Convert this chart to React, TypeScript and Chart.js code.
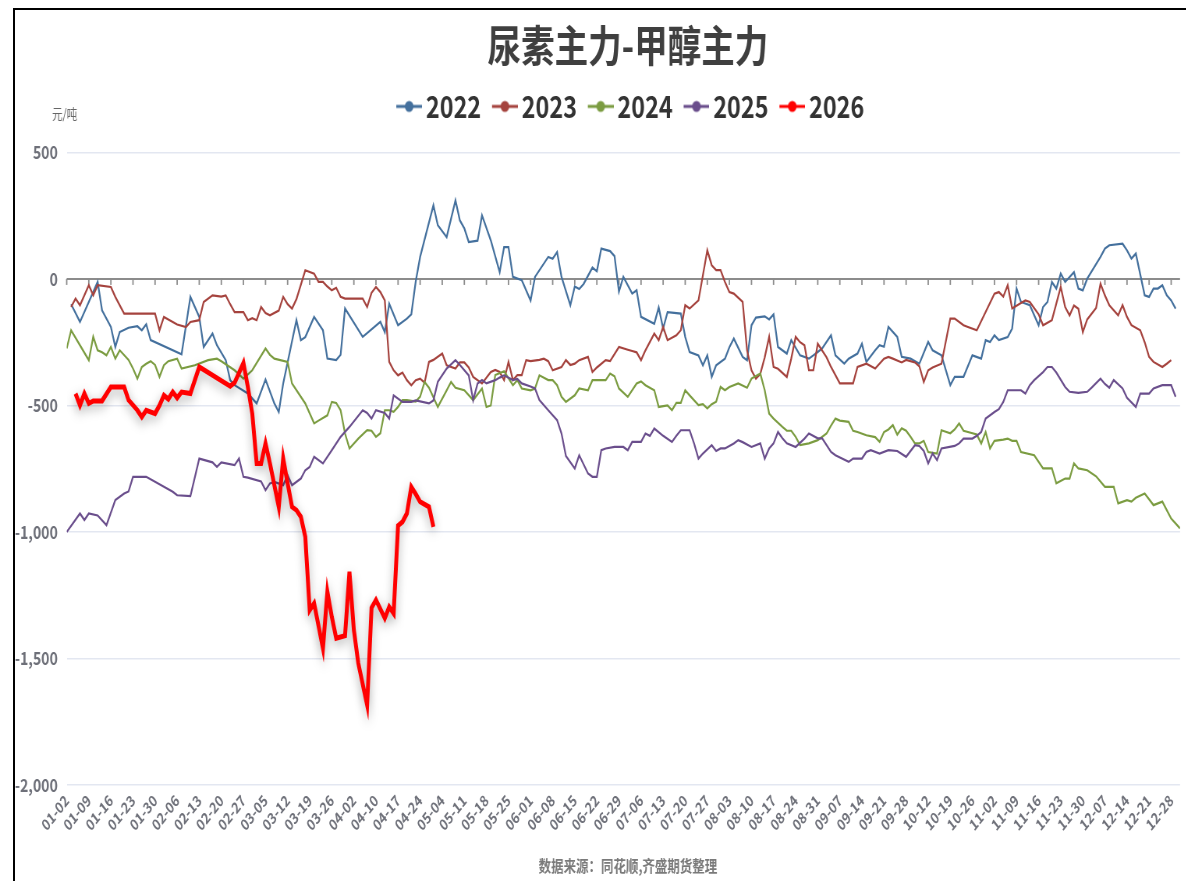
import React, { useEffect, useRef } from 'react';
import { Chart, registerables, layouts } from 'chart.js';

Chart.register(...registerables);

// ---------- data ----------
const tickLabels: string[] = [
  '01-02', '01-09', '01-16', '01-23', '01-30', '02-06', '02-13', '02-20', '02-27', '03-05',
  '03-12', '03-19', '03-26', '04-02', '04-10', '04-17', '04-24', '05-04', '05-11', '05-18',
  '05-25', '06-01', '06-08', '06-15', '06-22', '06-29', '07-06', '07-13', '07-20', '07-27',
  '08-03', '08-10', '08-17', '08-24', '08-31', '09-07', '09-14', '09-21', '09-28', '10-12',
  '10-19', '10-26', '11-02', '11-09', '11-16', '11-23', '11-30', '12-07', '12-14', '12-21',
  '12-28',
];
const lastDay = 252;
const seriesNames = ['2022', '2023', '2024', '2025', '2026'];
const seriesColors = ['#44709d', '#a5433e', '#7b9c41', '#6a4e8c', '#ff0000'];

// [trading-day index, value 元/吨]
const s2022: [number, number][] = [
  [1, -100], [3, -170], [7, -12], [8, -124], [10, -190], [11, -269], [12, -210], [14, -193], [16, -187], [17, -203],
  [18, -179], [19, -242], [26, -298], [28, -71], [30, -150], [31, -269], [33, -216], [34, -262], [36, -321], [37, -400],
  [38, -420], [41, -453], [43, -492], [45, -398], [47, -492], [48, -526], [49, -413], [52, -163], [53, -242], [54, -230],
  [56, -150], [58, -203], [59, -315], [61, -321], [62, -300], [63, -117], [67, -229], [71, -170], [72, -210], [73, -98],
  [75, -183], [77, -157], [78, -140], [79, -10], [80, 87], [83, 291], [84, 212], [86, 165], [88, 310], [89, 231],
  [90, 200], [91, 146], [93, 151], [94, 251], [96, 152], [98, 27], [99, 126], [100, 126], [101, 8], [103, -5],
  [105, -85], [106, 8], [109, 87], [110, 80], [111, 106], [112, 8], [114, -104], [115, -30], [116, -40], [117, -20],
  [119, 45], [120, 30], [121, 120], [123, 110], [124, 90], [125, -50], [126, 8], [128, -58], [129, -45], [130, -150],
  [133, -177], [134, -113], [135, -196], [136, -131], [139, -137], [140, -229], [141, -289], [143, -302], [144, -341], [145, -302],
  [146, -387], [147, -341], [149, -315], [150, -270], [151, -236], [153, -308], [154, -321], [155, -183], [156, -153], [158, -148],
  [159, -160], [160, -140], [161, -269], [163, -295], [164, -242], [166, -302], [168, -315], [169, -302], [170, -289], [171, -275],
  [173, -223], [174, -302], [176, -335], [177, -315], [179, -295], [180, -256], [181, -328], [183, -282], [184, -262], [185, -268],
  [186, -190], [188, -229], [189, -308], [191, -315], [193, -335], [195, -249], [196, -282], [198, -302], [200, -420], [201, -387],
  [203, -387], [205, -302], [207, -315], [208, -242], [209, -249], [210, -223], [211, -242], [213, -230], [214, -196], [215, -38],
  [216, -91], [218, -104], [220, -183], [221, -111], [222, -91], [223, -12], [224, -38], [225, 21], [226, -12], [228, 27],
  [229, -38], [230, -45], [231, 1], [234, 87], [235, 120], [236, 133], [239, 139], [240, 113], [241, 80], [242, 100],
  [244, -65], [245, -71], [246, -38], [247, -38], [248, -25], [249, -65], [250, -85], [251, -117],
];

const s2023: [number, number][] = [
  [1, -111], [2, -78], [3, -104], [5, -25], [6, -65], [7, -25], [10, -32], [11, -71], [13, -137], [20, -137],
  [21, -203], [22, -150], [23, -160], [24, -170], [25, -180], [27, -190], [28, -170], [30, -163], [31, -91], [33, -65],
  [35, -70], [36, -65], [37, -100], [38, -131], [40, -131], [41, -163], [42, -155], [43, -163], [44, -111], [45, -135],
  [46, -144], [48, -125], [49, -71], [50, -100], [51, -117], [52, -80], [54, 34], [56, 21], [57, -12], [58, -12],
  [59, -30], [60, -45], [61, -35], [62, -71], [63, -78], [67, -78], [68, -111], [69, -55], [70, -32], [71, -52],
  [72, -85], [73, -328], [74, -361], [75, -381], [76, -370], [77, -400], [78, -420], [79, -400], [80, -394], [81, -410],
  [82, -328], [83, -320], [85, -295], [86, -341], [88, -354], [89, -330], [90, -330], [91, -350], [92, -387], [94, -413],
  [96, -368], [97, -360], [98, -368], [99, -400], [100, -328], [101, -400], [102, -380], [103, -380], [104, -321], [105, -325],
  [107, -320], [108, -315], [109, -325], [110, -361], [112, -348], [113, -321], [114, -340], [115, -335], [116, -321], [118, -308],
  [119, -368], [120, -350], [122, -321], [123, -325], [125, -269], [127, -280], [128, -285], [129, -290], [130, -321], [131, -282],
  [133, -216], [134, -242], [135, -190], [136, -242], [138, -223], [139, -203], [140, -104], [141, -117], [143, -85], [145, 113],
  [146, 54], [147, 35], [148, 35], [149, -12], [150, -52], [151, -58], [153, -91], [154, -282], [155, -361], [156, -394],
  [157, -375], [158, -310], [159, -229], [160, -348], [161, -355], [163, -387], [164, -315], [165, -229], [166, -250], [167, -262],
  [168, -361], [169, -361], [170, -256], [172, -310], [173, -348], [175, -413], [178, -413], [179, -348], [181, -335], [183, -354],
  [185, -315], [186, -308], [187, -315], [189, -330], [190, -320], [192, -330], [193, -345], [194, -407], [195, -361], [196, -350],
  [198, -335], [200, -157], [201, -157], [203, -183], [204, -190], [206, -203], [210, -58], [211, -52], [212, -70], [213, -25],
  [214, -117], [216, -95], [217, -85], [218, -91], [220, -140], [221, -183], [223, -163], [224, -98], [225, -32], [226, -111],
  [227, -144], [228, -105], [229, -118], [230, -210], [231, -160], [233, -115], [234, -19], [235, -65], [236, -104], [238, -144],
  [239, -104], [240, -150], [241, -183], [243, -203], [244, -250], [245, -308], [246, -328], [248, -348], [249, -335], [250, -321],
];

const s2024: [number, number][] = [
  [0, -275], [1, -203], [3, -262], [5, -321], [6, -229], [7, -282], [8, -290], [9, -302], [10, -269], [11, -315],
  [12, -282], [14, -320], [15, -354], [16, -394], [17, -348], [18, -335], [19, -325], [20, -340], [21, -387], [22, -341],
  [23, -325], [25, -315], [26, -354], [29, -341], [32, -321], [34, -315], [35, -325], [38, -361], [40, -394], [42, -361],
  [45, -275], [46, -300], [47, -315], [50, -328], [51, -413], [54, -492], [56, -571], [57, -560], [59, -539], [60, -486],
  [61, -490], [62, -519], [63, -611], [64, -670], [66, -631], [68, -598], [69, -600], [70, -624], [71, -610], [72, -519],
  [73, -519], [74, -525], [75, -506], [76, -479], [77, -479], [79, -485], [80, -465], [81, -407], [82, -430], [84, -506],
  [86, -440], [87, -407], [88, -430], [90, -440], [92, -479], [94, -433], [95, -506], [96, -500], [97, -380], [99, -365],
  [101, -420], [102, -400], [103, -433], [105, -440], [106, -433], [107, -381], [109, -400], [110, -400], [111, -420], [112, -466],
  [113, -486], [115, -460], [116, -433], [118, -440], [119, -400], [122, -400], [123, -374], [124, -385], [125, -433], [127, -466],
  [129, -413], [130, -405], [131, -420], [133, -440], [134, -506], [136, -500], [137, -519], [138, -490], [139, -490], [140, -440],
  [141, -460], [143, -499], [144, -495], [145, -512], [146, -495], [147, -485], [148, -427], [149, -440], [150, -427], [152, -413],
  [154, -430], [155, -394], [157, -374], [158, -440], [159, -532], [160, -552], [162, -585], [163, -600], [164, -600], [165, -624],
  [166, -657], [168, -650], [170, -637], [172, -611], [173, -580], [174, -552], [175, -560], [177, -565], [178, -600], [179, -605],
  [181, -618], [183, -625], [184, -644], [185, -605], [186, -595], [187, -578], [188, -615], [189, -590], [190, -600], [191, -624],
  [192, -650], [193, -650], [194, -640], [195, -684], [197, -690], [198, -598], [200, -610], [201, -595], [202, -571], [203, -600],
  [204, -605], [206, -615], [207, -650], [208, -605], [209, -670], [210, -640], [212, -635], [213, -631], [214, -640], [215, -640],
  [216, -684], [219, -697], [221, -749], [223, -749], [224, -808], [226, -789], [227, -789], [228, -729], [229, -749], [231, -756],
  [233, -780], [235, -822], [237, -822], [238, -887], [240, -874], [241, -880], [242, -865], [244, -848], [246, -894], [248, -880],
  [249, -914], [250, -947], [252, -986],
];

const s2025: [number, number][] = [
  [0, -1000], [3, -927], [4, -953], [5, -927], [7, -935], [9, -973], [11, -874], [13, -848], [14, -840], [15, -782],
  [18, -782], [24, -841], [25, -855], [28, -858], [30, -710], [33, -725], [34, -743], [35, -725], [38, -736], [39, -710],
  [40, -782], [41, -785], [44, -800], [45, -835], [46, -808], [47, -802], [49, -815], [50, -776], [51, -815], [53, -789],
  [54, -756], [55, -743], [56, -703], [58, -729], [60, -677], [62, -624], [64, -585], [67, -519], [68, -530], [69, -552],
  [70, -519], [72, -530], [73, -552], [74, -460], [76, -486], [78, -486], [79, -480], [82, -492], [83, -480], [84, -407],
  [86, -354], [88, -321], [89, -340], [91, -381], [92, -479], [93, -413], [94, -400], [95, -413], [97, -400], [98, -390],
  [99, -381], [101, -400], [102, -395], [103, -413], [105, -425], [106, -433], [107, -479], [109, -519], [111, -558], [112, -611],
  [113, -700], [115, -749], [116, -697], [118, -769], [119, -782], [120, -782], [121, -677], [122, -670], [124, -664], [126, -664],
  [127, -677], [128, -644], [130, -644], [131, -611], [132, -620], [133, -591], [135, -620], [137, -644], [138, -620], [139, -598],
  [141, -598], [142, -650], [143, -710], [144, -690], [146, -657], [147, -680], [148, -670], [149, -670], [151, -650], [152, -637],
  [153, -645], [155, -664], [157, -650], [158, -710], [159, -670], [160, -650], [161, -605], [162, -630], [163, -650], [165, -664],
  [167, -631], [168, -611], [170, -630], [171, -630], [173, -684], [174, -697], [177, -723], [178, -710], [180, -710], [181, -684],
  [182, -677], [184, -690], [186, -677], [188, -680], [190, -703], [192, -657], [193, -660], [194, -680], [195, -729], [196, -690],
  [197, -716], [198, -670], [201, -660], [202, -650], [203, -631], [205, -631], [206, -620], [207, -605], [208, -552], [210, -526],
  [211, -515], [212, -486], [213, -440], [216, -440], [217, -453], [218, -420], [219, -400], [221, -368], [222, -348], [223, -348],
  [224, -370], [226, -427], [227, -446], [229, -450], [231, -446], [232, -430], [234, -394], [235, -415], [236, -430], [237, -400],
  [239, -433], [240, -470], [242, -506], [243, -453], [245, -453], [246, -433], [248, -420], [250, -420], [251, -466],
];

const s2026: [number, number][] = [
  [2, -453], [3, -499], [4, -453], [5, -492], [6, -482], [8, -482], [10, -427], [13, -427], [14, -479], [16, -519],
  [17, -545], [18, -519], [20, -532], [21, -500], [22, -460], [23, -475], [24, -447], [25, -470], [26, -447], [28, -453],
  [30, -348], [37, -424], [38, -410], [40, -332], [41, -427], [42, -532], [43, -729], [44, -729], [45, -650], [46, -729],
  [48, -901], [49, -710], [50, -808], [51, -901], [52, -914], [53, -940], [54, -1019], [55, -1309], [56, -1282], [58, -1460],
  [59, -1236], [60, -1335], [61, -1420], [63, -1410], [64, -1157], [65, -1388], [66, -1519], [68, -1684], [69, -1300], [70, -1269],
  [72, -1341], [73, -1296], [74, -1322], [75, -975], [76, -960], [77, -927], [78, -822], [79, -850], [80, -881], [82, -901],
  [83, -980],
];

const allSeries = [s2022, s2023, s2024, s2025, s2026];

// ---------- layout constants ----------
const SX = 0.78; // horizontal compression of the reference rendering
const CW = 1610;
const CH = 881;
const FONT = '"Noto Sans CJK SC", "Noto Sans", sans-serif';

function makeIcon(color: string): HTMLCanvasElement {
  const c = document.createElement('canvas');
  c.width = 49;
  c.height = 14;
  const g = c.getContext('2d')!;
  g.strokeStyle = color;
  g.lineWidth = 3;
  g.beginPath();
  g.moveTo(16, 7);
  g.lineTo(49, 7);
  g.stroke();
  g.fillStyle = color;
  g.beginPath();
  g.arc(32.5, 7, 5.5, 0, Math.PI * 2);
  g.fill();
  return c;
}

// empty layout box between legend and plot area
const spacerPlugin = {
  id: 'spacer',
  beforeInit(chart: any) {
    const box: any = {
      position: 'top',
      weight: 100,
      fullSize: true,
      options: { display: true, stackWeight: 1 },
      left: 0, top: 0, right: 0, bottom: 0, width: 0, height: 0,
      update(maxWidth: number) {
        this.width = maxWidth;
        this.height = 21;
      },
      isHorizontal() {
        return true;
      },
      draw() {},
    };
    layouts.addBox(chart, box);
  },
};

const decorPlugin = {
  id: 'decor',
  beforeDatasetsDraw(chart: any) {
    const { ctx, chartArea, scales } = chart;
    const y0 = scales.y.getPixelForValue(0);
    ctx.save();
    ctx.strokeStyle = '#8c8c8c';
    ctx.lineWidth = 2;
    ctx.beginPath();
    ctx.moveTo(chartArea.left, y0);
    ctx.lineTo(chartArea.right, y0);
    ctx.stroke();
    ctx.lineWidth = 1.8;
    for (let k = 0; k < tickLabels.length; k++) {
      const x = scales.x.getPixelForValue(k * 5);
      ctx.beginPath();
      ctx.moveTo(x, y0);
      ctx.lineTo(x, y0 + 6);
      ctx.stroke();
    }
    ctx.restore();
  },
  beforeDatasetDraw(chart: any, args: any) {
    if (args.index === 4) {
      const ctx = chart.ctx;
      ctx.save();
      ctx.shadowColor = 'rgba(0,0,0,0.35)';
      ctx.shadowBlur = 12;
      ctx.shadowOffsetX = 0;
      ctx.shadowOffsetY = 4;
    }
  },
  afterDatasetDraw(chart: any, args: any) {
    if (args.index === 4) chart.ctx.restore();
  },
  afterDraw(chart: any) {
    const ctx = chart.ctx;
    ctx.save();
    ctx.font = `13.5px ${FONT}`;
    ctx.fillStyle = '#666666';
    ctx.textAlign = 'left';
    ctx.textBaseline = 'middle';
    ctx.fillText('元/吨', 52 / SX, 114);
    ctx.restore();
  },
};

export default function App() {
  const ref = useRef<HTMLCanvasElement | null>(null);

  useEffect(() => {
    if (!ref.current) return;
    const datasets = allSeries.map((s, i) => ({
      label: seriesNames[i],
      data: s.map(([x, y]) => ({ x, y })),
      borderColor: seriesColors[i],
      backgroundColor: seriesColors[i],
      borderWidth: i === 4 ? 5 : 2.2,
      pointRadius: 0,
      pointHoverRadius: 0,
      pointStyle: makeIcon(seriesColors[i]),
      tension: 0,
      fill: false,
      order: 4 - i,
    }));

    const chart = new Chart(ref.current, {
      type: 'line',
      data: { datasets },
      options: {
        animation: false,
        responsive: false,
        devicePixelRatio: 1,
        events: [],
        layout: { padding: 0 },
        plugins: {
          title: {
            display: true,
            text: '尿素主力-甲醇主力',
            color: '#3f3f3f',
            font: { family: FONT, size: 43, weight: 'bold', lineHeight: 1.2 },
            padding: { top: 20.2, bottom: 11.6 },
          },
          legend: {
            display: true,
            position: 'top',
            labels: {
              usePointStyle: true,
              pointStyleWidth: 29,
              padding: 8,
              color: '#333333',
              font: { family: FONT, size: 30, weight: 'bold' },
              sort: (a: any, b: any) => a.datasetIndex - b.datasetIndex,
            },
          },
          subtitle: {
            display: true,
            position: 'bottom',
            text: '数据来源：同花顺,齐盛期货整理',
            color: '#7a7a7a',
            font: { family: FONT, size: 16, weight: 'bold', lineHeight: 1.2 },
            padding: { top: 0, bottom: 5.4 },
          },
          tooltip: { enabled: false },
        },
        scales: {
          x: {
            type: 'linear',
            min: 0,
            max: lastDay,
            afterBuildTicks: (s: any) => {
              s.ticks = tickLabels.map((_, k) => ({ value: k * 5 }));
            },
            afterFit: (s: any) => {
              s.height = 71.4;
              s.paddingLeft = 0;
              s.paddingRight = CW - 1180 / SX;
            },
            grid: { display: false, drawTicks: false },
            border: { display: false },
            ticks: {
              autoSkip: false,
              maxRotation: 45,
              minRotation: 45,
              padding: 6,
              color: '#6e7079',
              font: { family: FONT, size: 15.5, weight: 'bold' },
              callback: (_v: any, i: number) => tickLabels[i] ?? '',
            },
          },
          y: {
            min: -2000,
            max: 500,
            afterFit: (s: any) => {
              s.width = 66.7 / SX;
            },
            grid: {
              drawTicks: false,
              lineWidth: 1.5,
              color: (c: any) => (c.tick && c.tick.value === 0 ? 'rgba(0,0,0,0)' : '#e3e7f1'),
            },
            border: { display: false },
            ticks: {
              stepSize: 500,
              padding: 11.5,
              color: '#6e7079',
              font: { family: FONT, size: 18, weight: 'bold' },
            },
          },
        },
      },
      plugins: [spacerPlugin, decorPlugin],
    } as any);
    return () => chart.destroy();
  }, []);

  return (
    <div style={{ position: 'fixed', left: 0, top: 0, width: '100vw', height: '100vh', overflow: 'hidden', background: '#ffffff' }}>
      <div
        style={{
          position: 'absolute',
          left: 0,
          top: 0,
          width: CW,
          height: CH,
          transform: `scaleX(${SX})`,
          transformOrigin: '0 0',
        }}
      >
        <canvas ref={ref} width={CW} height={CH} style={{ display: 'block' }} />
      </div>
      <div
        style={{
          position: 'absolute',
          left: 13,
          top: 8,
          right: 0,
          bottom: 0,
          borderLeft: '2px solid #000',
          borderTop: '2px solid #000',
          pointerEvents: 'none',
        }}
      />
    </div>
  );
}
